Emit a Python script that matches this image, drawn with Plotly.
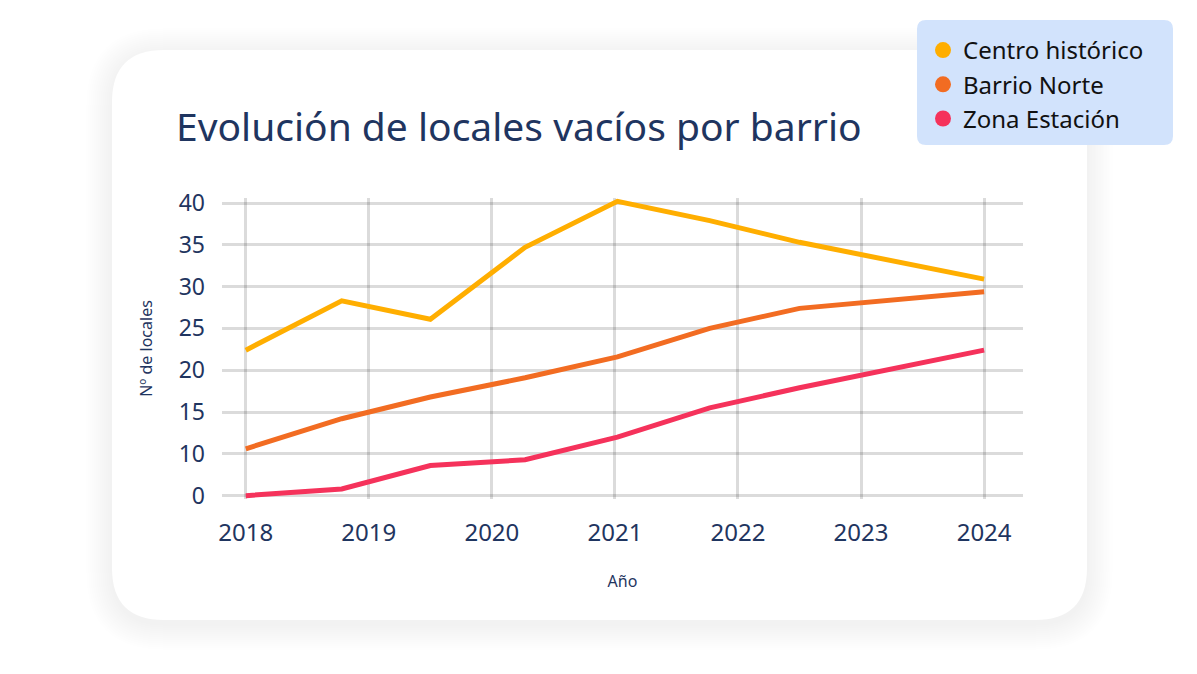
import plotly.graph_objects as go

# datos
anios = [2018.0, 2018.78, 2019.5, 2020.27, 2021.02, 2021.77, 2022.5, 2024.0]
centro_historico = [22.4, 28.3, 26.1, 34.7, 40.2, 37.9, 35.3, 30.9]
barrio_norte = [10.6, 14.2, 16.8, 19.1, 21.6, 25.0, 27.4, 29.4]
zona_estacion = [5.0, 5.8, 8.6, 9.3, 12.0, 15.5, 17.9, 22.4]

series = ["Centro histórico", "Barrio Norte", "Zona Estación"]
colores = ["#FFAE00", "#F26C22", "#F5325B"]

y_ticks = [5, 10, 15, 20, 25, 30, 35, 40]
y_ticktext = ["0", "10", "15", "20", "25", "30", "35", "40"]
x_ticks = [2018, 2019, 2020, 2021, 2022, 2023, 2024]

W, H = 1197, 674
OFF = 8  # margen del body de la pagina
ML, MR, MT, MB = 222 - OFF, 174 + OFF, 198 - OFF, 175 + OFF
PW = W - ML - MR
PH = H - MT - MB

NAVY = "#1F3560"
FONT = "Noto Sans"


def px(x):
    return (x - OFF - ML) / PW


def py(y):
    return (H - MB - (y - OFF)) / PH


def rounded_rect(x0, y0, x1, y1, r):
    # rectangulo redondeado en pixeles -> path en coordenadas paper
    pts = [
        ("M", (x0 + r, y0)),
        ("L", (x1 - r, y0)),
        ("Q", (x1, y0), (x1, y0 + r)),
        ("L", (x1, y1 - r)),
        ("Q", (x1, y1), (x1 - r, y1)),
        ("L", (x0 + r, y1)),
        ("Q", (x0, y1), (x0, y1 - r)),
        ("L", (x0, y0 + r)),
        ("Q", (x0, y0), (x0 + r, y0)),
    ]
    out = ""
    for p in pts:
        out += p[0] + " " + " ".join("%.5f,%.5f" % (px(a), py(b)) for a, b in p[1:]) + " "
    return out + "Z"


fig = go.Figure()

for nombre, vals, col in zip(series, [centro_historico, barrio_norte, zona_estacion], colores):
    fig.add_trace(go.Scatter(x=anios, y=vals, mode="lines", name=nombre,
                             line=dict(color=col, width=5), showlegend=False,
                             hoverinfo="skip"))

# entradas de leyenda con circulo
for nombre, col in zip(series, colores):
    fig.add_trace(go.Scatter(x=[None], y=[None], mode="markers", name=nombre,
                             marker=dict(color=col, size=17)))

shapes = []
# sombra de la tarjeta
for i in range(1, 14):
    e = i * 2
    shapes.append(dict(type="path", xref="paper", yref="paper", layer="below",
                       path=rounded_rect(112 - e, 50 - e + 4, 1087 + e, 620 + e + 4, 52 + e),
                       fillcolor="rgba(0,0,0,0.0035)", line=dict(width=0)))
shapes.append(dict(type="path", xref="paper", yref="paper", layer="below",
                   path=rounded_rect(112, 50, 1087, 620, 52),
                   fillcolor="white", line=dict(width=0)))
# caja de la leyenda
shapes.append(dict(type="path", xref="paper", yref="paper", layer="below",
                   path=rounded_rect(917, 20, 1173, 145, 9),
                   fillcolor="#D2E3FC", line=dict(width=0)))

fig.update_layout(
    width=W, height=H,
    margin=dict(l=ML, r=MR, t=MT, b=MB),
    paper_bgcolor="white",
    plot_bgcolor="rgba(0,0,0,0)",
    font=dict(family=FONT, color=NAVY),
    shapes=shapes,
    title=dict(text="Evolución de locales vacíos por barrio",
               x=(176 - OFF) / W, xanchor="left", xref="container",
               y=1 - (127 - OFF) / H, yanchor="middle", yref="container",
               font=dict(size=39, color=NAVY, family=FONT)),
    showlegend=True,
    legend=dict(x=px(923), xanchor="left", y=py(28), yanchor="top",
                bgcolor="rgba(0,0,0,0)", font=dict(size=24, color="#111111"),
                itemwidth=30),
    xaxis=dict(range=[2017.807, 2024.316], tickvals=x_ticks,
               showgrid=True, gridcolor="rgba(0,0,0,0.14)", gridwidth=2.5,
               zeroline=False, showline=False, ticks="",
               tickfont=dict(size=24, color=NAVY), ticklabelstandoff=17,
               title=dict(text="Año", font=dict(size=16, color=NAVY), standoff=28)),
    yaxis=dict(range=[4.6, 40.6], tickvals=y_ticks, ticktext=y_ticktext,
               showgrid=True, gridcolor="rgba(0,0,0,0.14)", gridwidth=2.5,
               zeroline=False, showline=False, ticks="",
               tickfont=dict(size=23, color=NAVY), ticklabelstandoff=16,
               title=dict(text="Nº de locales", font=dict(size=16, color=NAVY), standoff=22)),
)

fig.write_html("out.html")
